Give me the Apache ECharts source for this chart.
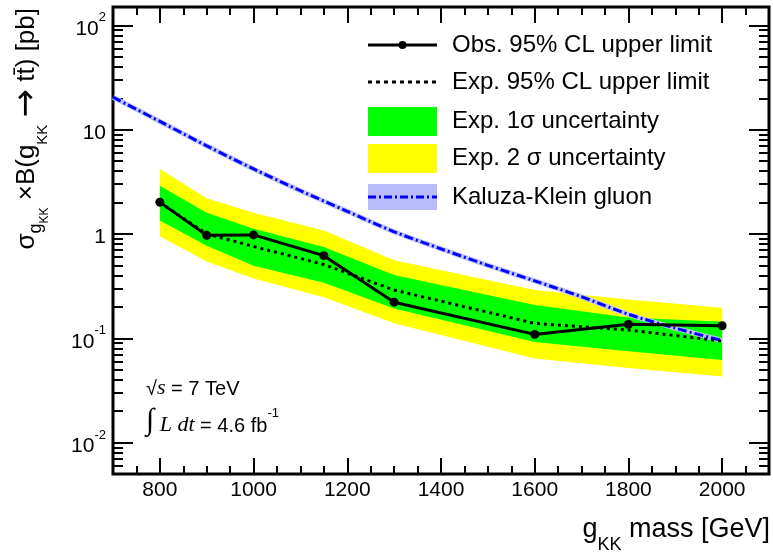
<!DOCTYPE html>
<html>
<head>
<meta charset="utf-8">
<script src="https://cdn.jsdelivr.net/npm/echarts@6/dist/echarts.min.js"></script>
<style>
html,body{margin:0;padding:0;background:#fff;}
#chart{width:773px;height:559px;}
</style>
</head>
<body>
<div id="chart"></div>
<script>
// ---- data ----
const massPoints = [800, 900, 1000, 1150, 1300, 1600, 1800, 2000];
const observed   = [2.02, 0.97, 0.98, 0.62, 0.222, 0.109, 0.136, 0.132];
const expected   = [2.0, 1.0, 0.76, 0.51, 0.29, 0.139, 0.12, 0.094];
const green1Hi   = [2.9, 1.6, 1.12, 0.75, 0.405, 0.208, 0.158, 0.144];
const green1Lo   = [1.35, 0.77, 0.495, 0.34, 0.193, 0.092, 0.075, 0.062];
const yellow2Hi  = [4.2, 2.2, 1.6, 1.08, 0.56, 0.29, 0.235, 0.196];
const yellow2Lo  = [0.95, 0.545, 0.375, 0.247, 0.139, 0.064, 0.052, 0.043];
const kkMass     = [700, 800, 900, 1000, 1100, 1200, 1300, 1400, 1500, 1600, 1700, 1800, 1900, 2000];
const kkXsec     = [20.5, 12.0, 7.0, 4.2, 2.6, 1.65, 1.05, 0.72, 0.50, 0.355, 0.25, 0.17, 0.125, 0.095];
const xMajorTicks = [800, 1000, 1200, 1400, 1600, 1800, 2000];
const yMajorTicks = [0.01, 0.1, 1, 10, 100];

const X_MIN = 700, X_MAX = 2100, Y_MIN = 0.005, Y_MAX = 150;
const xMinorTicks = [];
for (let v = X_MIN + 50; v < X_MAX; v += 50) xMinorTicks.push(v);
const yMinorTicks = [];
for (let e = -3; e <= 2; e++) for (let k = 2; k <= 9; k++) {
  const v = +(k * Math.pow(10, e)).toPrecision(3);
  if (v >= Y_MIN && v <= Y_MAX) yMinorTicks.push(v);
}

const FONT = "'Liberation Sans', Arial, Helvetica, sans-serif";
const SERIF = "'Liberation Serif', 'Times New Roman', serif";

function yLabel(v) {
  const e = Math.round(Math.log10(v));
  if (e === 0) return '{b|1}';
  if (e === 1) return '{b|10}';
  return '{b|10}{p|' + e + '}';
}

// ---- composed text with sub/superscripts (pieces laid out left to right) ----
const measureCtx = document.createElement('canvas').getContext('2d');
function pieceFont(p) { return (p.italic ? 'italic ' : '') + p.size + 'px ' + (p.family || FONT); }
function composeChildren(pieces) {
  let x = 0;
  const kids = pieces.map(function (p) {
    const font = pieceFont(p);
    measureCtx.font = font;
    const w = measureCtx.measureText(p.t).width;
    const el = {type: 'text', x: x, y: p.dy || 0, style: {text: p.t, font: font, fill: '#000', align: 'left', verticalAlign: 'middle'}};
    x += w;
    return el;
  });
  return {kids: kids, width: x};
}
function shiftKids(c, dx) { c.kids.forEach(function (k) { k.x += dx; }); return c.kids; }

const yTitle = composeChildren([
  {t: 'σ', size: 26},
  {t: 'g', size: 18, dy: 9},
  {t: 'KK', size: 12, dy: 18},
  {t: ' ×B(g', size: 26},
  {t: 'KK', size: 15, dy: 16},
  {t: ' ', size: 26},
  {t: '→', size: 34, family: "'DejaVu Sans', " + FONT},
  {t: ' tt̄) [pb]', size: 26}
]);
const xTitle = composeChildren([
  {t: 'g', size: 27},
  {t: 'KK', size: 18, dy: 15},
  {t: ' mass [GeV]', size: 27}
]);

const chart = echarts.init(document.getElementById('chart'), null, {renderer: 'canvas'});

function xAxisDef(pos, ticks, len, labels) {
  return {
    type: 'value', position: pos, min: X_MIN, max: X_MAX, gridIndex: 0,
    axisLine: {show: false, onZero: false},
    splitLine: {show: false},
    axisTick: {show: true, inside: true, length: len, customValues: ticks, lineStyle: {color: '#000', width: 2}},
    axisLabel: labels ? {show: true, customValues: ticks, margin: 6, color: '#000', fontFamily: FONT, fontSize: 21,
      formatter: function (v) { return String(Math.round(v)); }} : {show: false}
  };
}
function yAxisDef(pos, ticks, len, labels) {
  return {
    type: 'log', logBase: 10, position: pos, min: Y_MIN, max: Y_MAX, gridIndex: 0,
    axisLine: {show: false, onZero: false},
    splitLine: {show: false},
    minorTick: {show: false},
    axisTick: {show: true, inside: true, length: len, customValues: ticks, lineStyle: {color: '#000', width: 2}},
    axisLabel: labels ? {
      show: true, customValues: ticks, margin: 7, formatter: yLabel,
      rich: {
        b: {fontFamily: FONT, fontSize: 21, color: '#000', lineHeight: 28, verticalAlign: 'bottom'},
        p: {fontFamily: FONT, fontSize: 13, color: '#000', lineHeight: 14, verticalAlign: 'top'}
      }
    } : {show: false}
  };
}

function bandRenderer(hiArr, loArr, color) {
  return function (params, api) {
    if (params.dataIndex !== 0) return null;
    const pts = [];
    for (let i = 0; i < massPoints.length; i++) pts.push(api.coord([massPoints[i], hiArr[i]]));
    for (let i = massPoints.length - 1; i >= 0; i--) pts.push(api.coord([massPoints[i], loArr[i]]));
    return {type: 'polygon', shape: {points: pts}, style: {fill: color}, silent: true};
  };
}

const legendX0 = 368, legendX1 = 437, legendTextX = 452;
const legendRows = [45, 82, 121, 158, 197];
const legendTexts = ['Obs. 95% CL upper limit', 'Exp. 95% CL upper limit', 'Exp. 1σ uncertainty', 'Exp. 2 σ uncertainty', 'Kaluza-Klein gluon'];
const legendGraphics = [];
legendRows.forEach(function (y, i) {
  legendGraphics.push({
    type: 'text', x: legendTextX, y: y, z: 100,
    style: {text: legendTexts[i], fill: '#000', font: '24px ' + FONT, verticalAlign: 'middle', align: 'left'}
  });
});
legendGraphics.push(
  {type: 'line', z: 100, shape: {x1: legendX0, y1: legendRows[0], x2: legendX1, y2: legendRows[0]}, style: {stroke: '#000', lineWidth: 3}},
  {type: 'circle', z: 101, shape: {cx: (legendX0 + legendX1) / 2, cy: legendRows[0], r: 4}, style: {fill: '#000'}},
  {type: 'line', z: 100, shape: {x1: legendX0, y1: legendRows[1], x2: legendX1, y2: legendRows[1]}, style: {stroke: '#000', lineWidth: 3, lineDash: [4, 4]}},
  {type: 'rect', z: 100, shape: {x: legendX0, y: legendRows[2] - 14, width: legendX1 - legendX0, height: 29}, style: {fill: '#00ff00'}},
  {type: 'rect', z: 100, shape: {x: legendX0, y: legendRows[3] - 14, width: legendX1 - legendX0, height: 29}, style: {fill: '#ffff00'}},
  {type: 'rect', z: 100, shape: {x: legendX0, y: legendRows[4] - 13, width: legendX1 - legendX0, height: 26}, style: {fill: '#b8bcf8'}},
  {type: 'line', z: 101, shape: {x1: legendX0, y1: legendRows[4], x2: legendX1, y2: legendRows[4]}, style: {stroke: '#0000ff', lineWidth: 3, lineDash: [8, 3, 2, 3]}}
);

const option = {
  animation: false,
  backgroundColor: '#fff',
  grid: {left: 113, right: 4, top: 7, bottom: 85, show: true, borderColor: '#000', borderWidth: 3, backgroundColor: 'transparent', containLabel: false},
  xAxis: [
    xAxisDef('bottom', xMajorTicks, 16, true),
    xAxisDef('bottom', xMinorTicks, 8, false),
    xAxisDef('top', xMajorTicks, 16, false),
    xAxisDef('top', xMinorTicks, 8, false)
  ],
  yAxis: [
    yAxisDef('left', yMajorTicks, 20, true),
    yAxisDef('left', yMinorTicks, 10, false),
    yAxisDef('right', yMajorTicks, 20, false),
    yAxisDef('right', yMinorTicks, 10, false)
  ],
  series: [
    {name: 'Exp. 2σ uncertainty', type: 'custom', renderItem: bandRenderer(yellow2Hi, yellow2Lo, '#ffff00'),
     data: massPoints.map((m, i) => [m, yellow2Hi[i], yellow2Lo[i]]), encode: {x: 0, y: [1, 2]}, z: 1, clip: true},
    {name: 'Exp. 1σ uncertainty', type: 'custom', renderItem: bandRenderer(green1Hi, green1Lo, '#00ff00'),
     data: massPoints.map((m, i) => [m, green1Hi[i], green1Lo[i]]), encode: {x: 0, y: [1, 2]}, z: 2, clip: true},
    {name: 'KK band', type: 'line', data: kkMass.map((m, i) => [m, kkXsec[i]]), smooth: 0.3, showSymbol: false, symbol: 'none',
     lineStyle: {color: '#c0c4fa', width: 5}, z: 3, silent: true},
    {name: 'Kaluza-Klein gluon', type: 'line', data: kkMass.map((m, i) => [m, kkXsec[i]]), smooth: 0.3, showSymbol: false, symbol: 'none',
     lineStyle: {color: '#0000ff', width: 3, type: [9, 3, 2, 3]}, z: 4, silent: true},
    {name: 'Exp. 95% CL upper limit', type: 'line', data: massPoints.map((m, i) => [m, expected[i]]), symbol: 'none',
     lineStyle: {color: '#000', width: 3, type: [3, 4]}, z: 5, silent: true},
    {name: 'Obs. 95% CL upper limit', type: 'line', data: massPoints.map((m, i) => [m, observed[i]]), symbol: 'circle', symbolSize: 9,
     itemStyle: {color: '#000'}, lineStyle: {color: '#000', width: 3}, z: 6, silent: true}
  ],
  graphic: [
    {type: 'group', x: 27, y: 8, rotation: Math.PI / 2, z: 100, children: shiftKids(yTitle, -yTitle.width)},
    {type: 'group', x: 770 - xTitle.width, y: 530, z: 100, children: xTitle.kids},
    {type: 'text', x: 146, y: 387, z: 100,
     style: {
       text: '{n|√}{i|s}{n| = 7 TeV}', align: 'left', verticalAlign: 'middle',
       rich: {
         n: {fontFamily: FONT, fontSize: 20, lineHeight: 24, verticalAlign: 'bottom', fill: '#000'},
         i: {fontFamily: SERIF, fontStyle: 'italic', fontSize: 22, lineHeight: 24, verticalAlign: 'bottom', fill: '#000'}
       }
     }},
    {type: 'text', x: 146, y: 419, z: 100,
     style: {
       text: '{int|∫}{i| L dt}{n| = 4.6 fb}{p|-1}', align: 'left', verticalAlign: 'middle',
       rich: {
         int: {fontFamily: SERIF, fontSize: 30, lineHeight: 34, verticalAlign: 'bottom', fill: '#000'},
         n: {fontFamily: FONT, fontSize: 20, lineHeight: 28, verticalAlign: 'bottom', fill: '#000'},
         i: {fontFamily: SERIF, fontStyle: 'italic', fontSize: 22, lineHeight: 28, verticalAlign: 'bottom', fill: '#000'},
         p: {fontFamily: FONT, fontSize: 13, lineHeight: 13, verticalAlign: 'top', padding: [5, 0, 0, 0], fill: '#000'}
       }
     }}
  ].concat(legendGraphics)
};
chart.setOption(option);
</script>
</body>
</html>
